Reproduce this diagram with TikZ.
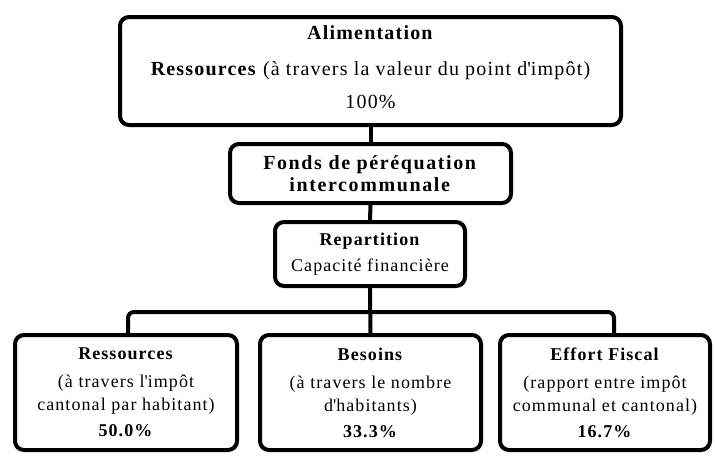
\documentclass[tikz,border=0pt]{standalone}
\usepackage{fontspec}
\setmainfont[LetterSpace=6]{Liberation Serif}
\newcommand{\apos}{\textquotesingle}
\begin{document}
\begin{tikzpicture}[x=1pt,y=-1pt,
  box/.style={draw=black,line width=4pt,rounded corners=9pt,fill=white,inner sep=0pt,align=center,anchor=center},
  conn/.style={draw=black,line width=4pt},
  big/.style={font=\fontsize{20}{24}\selectfont},
  small/.style={font=\fontsize{18}{22}\selectfont}]
\useasboundingbox (0,0) rectangle (715,456);
\node[box,minimum width=501,minimum height=108] (top) at (370.5,71) {};
\node[big,align=center,inner sep=0pt] (toptext) at (370.5,67)
  {\textbf{Alimentation}\\[12pt]\textbf{Ressources} (à travers la valeur du point d\apos impôt)\\[9pt]100\%};
\node[box,big,minimum width=281,minimum height=59] (fonds) at (370.5,173.5)
  {\textbf{\addfontfeature{LetterSpace=8}Fonds de péréquation}\\[-2pt]\textbf{\addfontfeature{LetterSpace=8}intercommunale}};
\node[box,small,minimum width=190,minimum height=64] (rep) at (370,254)
  {\textbf{Repartition}\\[4pt]Capacité financière};
\node[box,small,minimum width=222,minimum height=115] (L) at (126,392.5)
  {\textbf{Ressources}\\[6pt](à travers l\apos impôt\\[1pt]cantonal par habitant)\\[4pt]\textbf{50.0\%}};
\node[box,small,minimum width=221,minimum height=115] (M) at (370.5,392.5)
  {\textbf{Besoins}\\[6pt](à travers le nombre\\[1pt]d\apos habitants)\\[4pt]\textbf{33.3\%}};
\node[box,small,minimum width=210,minimum height=115] (R) at (605,392.5)
  {\textbf{Effort Fiscal}\\[6pt](rapport entre impôt\\[1pt]communal et cantonal)\\[4pt]\textbf{16.7\%}};
\coordinate (busL) at (128,312);
\coordinate (busR) at (614,312);
\draw[conn] (top.south) -- (fonds.north);
\draw[conn] (fonds.south) -- (rep.north);
\draw[conn] (rep.south) -- (M.north);
\draw[conn,rounded corners=6pt] (busL |- L.north) -- (busL) -- (busR) -- (busR |- R.north);
\end{tikzpicture}
\end{document}
